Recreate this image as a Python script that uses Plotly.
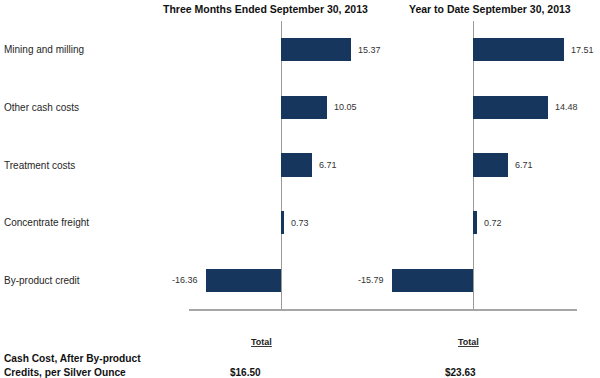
import plotly.graph_objects as go

categories = ["Mining and milling", "Other cash costs", "Treatment costs",
              "Concentrate freight", "By-product credit"]
three_months = [15.37, 10.05, 6.71, 0.73, -16.36]
year_to_date = [17.51, 14.48, 6.71, 0.72, -15.79]
panel_titles = ["Three Months Ended September 30, 2013", "Year to Date September 30, 2013"]
totals = ["$16.50", "$23.63"]
total_label = "Total"
footer_lines = ["Cash Cost, After By-product", "Credits, per Silver Ounce"]

W, H = 600, 378
BAR = "#17365D"
FONT = "Liberation Sans, Arial, sans-serif"

def fmt(v):
    return f"{v:.2f}"

fig = go.Figure()
for vals, xa in [(three_months, "x"), (year_to_date, "x2")]:
    fig.add_trace(go.Bar(
        y=categories, x=vals, orientation="h", xaxis=xa, yaxis="y",
        marker=dict(color=BAR, line=dict(width=0)), width=0.4,
        showlegend=False, hoverinfo="skip"))

ax_common = dict(showgrid=False, showticklabels=False, ticks="",
                 zeroline=True, zerolinecolor="#9a9a9a", zerolinewidth=1,
                 showline=True, linecolor="#a6a6a6", linewidth=1.5, fixedrange=True)
fig.update_layout(
    width=W, height=H, margin=dict(l=0, r=0, t=0, b=0),
    paper_bgcolor="white", plot_bgcolor="white",
    font=dict(family=FONT, color="#222222"),
    bargap=0,
    xaxis=dict(domain=[189 / W, 380 / W], range=[-20.09, 21.62], anchor="y", **ax_common),
    xaxis2=dict(domain=[380 / W, 577 / W], range=[-18.01, 20.02], anchor="y", **ax_common),
    yaxis=dict(domain=[(H - 309) / H, (H - 21) / H], range=[4.5, -0.5],
               categoryorder="array", categoryarray=categories,
               showticklabels=False, showgrid=False, zeroline=False, showline=False,
               ticks="", fixedrange=True),
)

ann = []
for vals, xa in [(three_months, "x"), (year_to_date, "x2")]:
    for c, v in zip(categories, vals):
        ann.append(dict(x=v, y=c, xref=xa, yref="y", text=fmt(v), showarrow=False,
                        xanchor="left" if v >= 0 else "right", yanchor="middle",
                        xshift=5 if v >= 0 else -6,
                        font=dict(size=9, color="#333333", family=FONT)))
for c in categories:
    ann.append(dict(x=2 / W, y=c, xref="paper", yref="y", text=c, showarrow=False,
                    xanchor="left", yanchor="middle",
                    font=dict(size=10, color="#262626", family=FONT)))
for t, cx in zip(panel_titles, [265, 490]):
    ann.append(dict(x=cx / W, y=(H - 9) / H, xref="paper", yref="paper",
                    text=f"<b>{t}</b>", showarrow=False, xanchor="center", yanchor="middle",
                    font=dict(size=10.5, color="#111111", family=FONT)))
for cx in [261, 468]:
    ann.append(dict(x=cx / W, y=(H - 342) / H, xref="paper", yref="paper",
                    text=f"<b><u>{total_label}</u></b>", showarrow=False,
                    xanchor="center", yanchor="middle",
                    font=dict(size=9, color="#222222", family=FONT)))
for t, cx in zip(totals, [246, 460]):
    ann.append(dict(x=cx / W, y=(H - 372) / H, xref="paper", yref="paper",
                    text=f"<b>{t}</b>", showarrow=False, xanchor="center", yanchor="middle",
                    font=dict(size=10, color="#111111", family=FONT)))
for line, yy in zip(footer_lines, [358, 372]):
    ann.append(dict(x=2 / W, y=(H - yy) / H, xref="paper", yref="paper",
                    text=f"<b>{line}</b>", showarrow=False, xanchor="left", yanchor="middle",
                    font=dict(size=10.2, color="#111111", family=FONT)))
fig.update_layout(annotations=ann)

fig.write_html("out.html", config={"displayModeBar": False},
               post_script="document.body.style.margin='0';")
